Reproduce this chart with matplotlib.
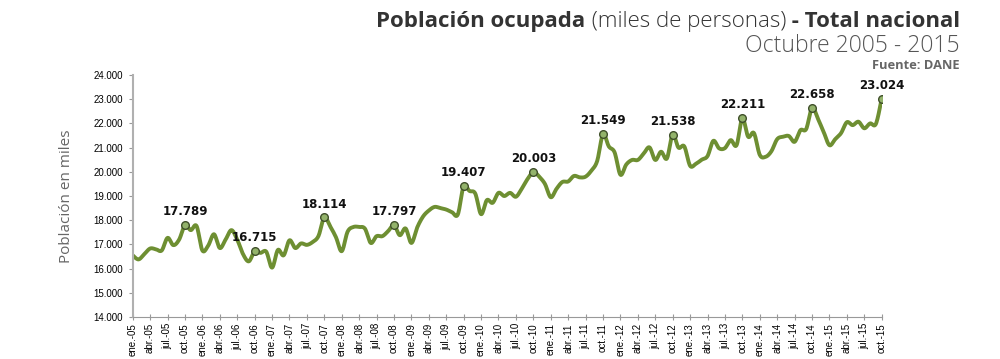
import numpy as np
import matplotlib
matplotlib.use('Agg')
import matplotlib.pyplot as plt

# población ocupada, miles de personas, ene-05 .. oct-15
y2005 = [16550, 16380, 16600, 16830, 16800, 16750, 17270, 16970, 17200, 17789, 17590, 17760]
y2006 = [16750, 16950, 17420, 16850, 17200, 17590, 17200, 16600, 16300, 16715, 16650, 16700]
y2007 = [16040, 16770, 16550, 17170, 16850, 17040, 16980, 17100, 17350, 18114, 17750, 17300]
y2008 = [16720, 17520, 17720, 17720, 17650, 17060, 17340, 17340, 17550, 17797, 17380, 17660]
y2009 = [17060, 17700, 18150, 18400, 18550, 18500, 18440, 18330, 18240, 19407, 19210, 19100]
y2010 = [18250, 18830, 18720, 19130, 19000, 19130, 18970, 19300, 19700, 20003, 19800, 19500]
y2011 = [18950, 19300, 19580, 19600, 19830, 19770, 19800, 20050, 20450, 21549, 21050, 20800]
y2012 = [19880, 20300, 20490, 20490, 20750, 21010, 20490, 20830, 20550, 21538, 21000, 21050]
y2013 = [20250, 20330, 20500, 20650, 21280, 20970, 20980, 21310, 21100, 22211, 21450, 21600]
y2014 = [20700, 20620, 20850, 21350, 21450, 21480, 21240, 21720, 21770, 22658, 22200, 21650]
y2015 = [21100, 21350, 21600, 22050, 21930, 22070, 21800, 22000, 21980, 23024]

meses = ['ene.', 'abr.', 'jul.', 'oct.']
anios = list(range(2005, 2016))

values = np.array(y2005 + y2006 + y2007 + y2008 + y2009 + y2010 +
                  y2011 + y2012 + y2013 + y2014 + y2015, dtype=float)
n = len(values)
idx = np.arange(n)

tick_pos = idx[::3]
tick_lab = [f'{meses[(p // 3) % 4]}-{str(anios[p // 12])[2:]}' for p in tick_pos]
oct_idx = idx[9::12]

LINE = '#6e8f32'


def catmull_rom(x, y, steps=12):
    # curva suavizada tipo Excel
    px = np.concatenate([[x[0]], x, [x[-1]]])
    py = np.concatenate([[y[0]], y, [y[-1]]])
    xs, ys = [], []
    t = np.linspace(0, 1, steps, endpoint=False)
    for i in range(1, len(px) - 2):
        p0, p1, p2, p3 = py[i - 1], py[i], py[i + 1], py[i + 2]
        q0, q1, q2, q3 = px[i - 1], px[i], px[i + 1], px[i + 2]
        f = lambda a0, a1, a2, a3: 0.5 * ((2 * a1) + (-a0 + a2) * t +
                                          (2 * a0 - 5 * a1 + 4 * a2 - a3) * t ** 2 +
                                          (-a0 + 3 * a1 - 3 * a2 + a3) * t ** 3)
        xs.append(f(q0, q1, q2, q3))
        ys.append(f(p0, p1, p2, p3))
    xs.append([x[-1]])
    ys.append([y[-1]])
    return np.concatenate(xs), np.concatenate(ys)


fig = plt.figure(figsize=(10, 3.59), dpi=100)
ax = fig.add_axes([0.1327, 0.117, 0.749, 0.674])

sx, sy = catmull_rom(idx.astype(float), values)
ax.plot(sx, sy, color=LINE, lw=2.8, solid_capstyle='round', zorder=2)
ax.plot(oct_idx, values[oct_idx], 'o', ms=5.5, mfc='#93b36b', mec='#3f4f2a', mew=1.0, zorder=3)
for i in oct_idx:
    ax.annotate(f'{values[i]:,.0f}'.replace(',', '.'), (i, values[i]), xytext=(0, 5),
                textcoords='offset points', ha='center', va='bottom',
                fontsize=8.5, fontweight='bold', family='DejaVu Sans', color='#111111')

ax.set_xlim(0, n - 1)
ax.set_ylim(14000, 24000)
ax.set_yticks(np.arange(14000, 24001, 1000))
ax.set_yticklabels([f'{v:,.0f}'.replace(',', '.') for v in np.arange(14000, 24001, 1000)],
                   family='Liberation Sans', fontsize=7)
ax.set_xticks(tick_pos)
ax.set_xticklabels(tick_lab, rotation=90, family='Liberation Sans', fontsize=7)
ax.tick_params(axis='y', length=3, width=0.8, color='#999999', pad=4)
ax.tick_params(axis='x', direction='inout', length=5, width=0.8, color='#999999', pad=2)
for s in ['top', 'right']:
    ax.spines[s].set_visible(False)
ax.spines['left'].set_color('#b0b0b0')
ax.spines['left'].set_linewidth(1.5)
ax.spines['bottom'].set_color('#999999')
ax.spines['bottom'].set_linewidth(0.8)
ax.set_ylabel('Población en miles', family='Open Sans', fontsize=11, color='#666666', labelpad=14)

# título con partes de distinto peso, alineado a la derecha
renderer = fig.canvas.get_renderer()
parts = [(' - Total nacional', 'bold'), (' (miles de personas)', 'light'), ('Población ocupada', 'bold')]
xr = 0.96
for txt, w in parts:
    t = fig.text(xr, 0.925, txt, ha='right', va='baseline', family='Open Sans',
                 fontweight=w, fontsize=16, color='#333333')
    bb = t.get_window_extent(renderer=renderer)
    xr = bb.x0 / fig.bbox.width
fig.text(0.96, 0.855, 'Octubre 2005 - 2015', ha='right', va='baseline', family='Open Sans',
         fontweight='light', fontsize=16.5, color='#555555')
fig.text(0.96, 0.808, 'Fuente: DANE', ha='right', va='baseline', family='Open Sans',
         fontweight='bold', fontsize=9.3, color='#666666')

fig.savefig('out.png', dpi=100)
